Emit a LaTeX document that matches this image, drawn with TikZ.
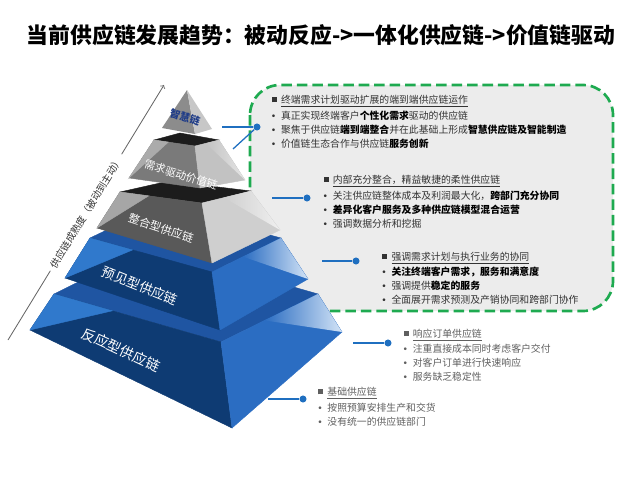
\documentclass[tikz,border=0pt]{standalone}
\usepackage{fontspec}
\setmainfont{Noto Sans CJK SC}
\newfontfamily\bulfont{Liberation Sans}
\usepackage{tikz}
\usetikzlibrary{calc}

\definecolor{framegreen}{HTML}{1EAA50}
\definecolor{framegray}{HTML}{ECECEC}
\definecolor{linkblue}{HTML}{1F6FC0}
\definecolor{smartblue}{HTML}{1F3C88}
\definecolor{txtdark}{HTML}{333333}
\definecolor{txtgray}{HTML}{5F5F5F}
\definecolor{bluetop}{HTML}{1F55A2}
\definecolor{bluedark}{HTML}{0E3B73}
\definecolor{bluehi}{HTML}{3079CC}
\definecolor{bluemid}{HTML}{2B6DC2}
\definecolor{bluepale}{HTML}{D2E3F6}
\definecolor{graytop}{HTML}{1C1C1C}

% one slice of the pyramid: top face, left face (with light wedge), right face
\newcommand{\slab}[6]{%
  \path[fill=#2, draw=#2, line width=0.3pt] (#1lt) -- (#1bt) -- (#1rt) -- (#1ft) -- cycle;
  \path[fill=#3, draw=#3, line width=0.3pt] (#1lb) -- (#1lt) -- (#1ft) -- (#1fb) -- cycle;
  \path[fill=#4, draw=#4, line width=0.3pt] (#1lb) -- (#1lt) -- ($(#1lt)!0.35!(#1ft)$) -- cycle;
  \path[fill=#5, draw=#5, line width=0.3pt] (#1ft) -- (#1rt) -- (#1rb) -- (#1fb) -- cycle;
  \shade[left color=#5, right color=#6] ($(#1ft)!0.45!(#1rt)$) -- (#1rt) -- (#1rb) -- cycle;
}
\newcommand{\hd}[1]{\makebox[6.5pt][l]{\rule[0.9pt]{3.6pt}{3.6pt}}\underline{#1}}
\newcommand{\itm}{\makebox[6.5pt][l]{\bulfont •}}
\newcommand{\bk}[1]{\textcolor{black}{\textbf{#1}}}

\tikzset{
  frame/.style={draw=framegreen, fill=framegray, line width=1.9pt,
    dash pattern=on 7.5pt off 3.5pt, rounded corners=0.75cm},
  matarrow/.style={->, draw=black!60, line width=0.6pt},
  mattext/.style={fill=white, inner xsep=3pt, inner ysep=1pt, text=txtdark,
    font=\fontsize{7}{8}\selectfont},
  blocktext/.style={anchor=west, align=left, inner sep=0pt, text=txtdark,
    font=\fontsize{7}{10}\selectfont},
  layerlab/.style={text=white, inner sep=0pt},
  linkdot/.style={circle, fill=linkblue, inner sep=0pt, minimum size=5pt},
  link/.style={draw=linkblue, line width=0.9pt},
}

\begin{document}
\begin{tikzpicture}[x=0.025cm, y=-0.025cm]
  \useasboundingbox (0,0) rectangle (640,480);

  \node[font=\fontsize{15.5}{18}\selectfont\bfseries] (title) at (321,35)
    {当前供应链发展趋势：被动反应->一体化供应链->价值链驱动};

  % dashed frame behind the upper levels
  \draw[frame] (250,85) rectangle (613,311);

  % maturity arrow
  \coordinate (mat0) at (8,340);
  \coordinate (mat1) at (164,85);
  \draw[matarrow] (mat0) -- (mat1)
    node[midway, sloped, mattext] (matlab) {供应链成熟度（被动到主动）};

  % level 5
  \coordinate (p5lt) at (54,294);  \coordinate (p5bt) at (151,246);
  \coordinate (p5rt) at (318,294); \coordinate (p5ft) at (221,342);
  \coordinate (p5lb) at (30,330);  \coordinate (p5fb) at (232,428);
  \coordinate (p5rb) at (342,332);
  \slab{p5}{bluetop}{bluedark}{bluehi}{bluemid}{bluepale}

  % level 4
  \coordinate (p4lt) at (90,238);  \coordinate (p4bt) at (159,205);
  \coordinate (p4rt) at (281,238); \coordinate (p4ft) at (212,272);
  \coordinate (p4lb) at (65,278);  \coordinate (p4fb) at (220,330);
  \coordinate (p4rb) at (308,279);
  \slab{p4}{bluetop}{bluedark}{bluehi}{bluemid}{bluepale}

  % level 3
  \coordinate (p3lt) at (120,192); \coordinate (p3bt) at (169,181);
  \coordinate (p3rt) at (251,191); \coordinate (p3ft) at (202,203);
  \coordinate (p3lb) at (97,228);  \coordinate (p3fb) at (212,263);
  \coordinate (p3rb) at (280,230);
  \slab{p3}{graytop}{black!65}{black!35}{black!19}{black!6}

  % level 2
  \coordinate (p2lt) at (154,140); \coordinate (p2bt) at (180,133);
  \coordinate (p2rt) at (219,140); \coordinate (p2ft) at (195,146);
  \coordinate (p2lb) at (129,178); \coordinate (p2fb) at (200,188);
  \coordinate (p2rb) at (245,180);
  \slab{p2}{graytop}{black!52}{black!33}{black!24}{black!10}

  % top
  \coordinate (p1a) at (187,90);
  \coordinate (p1l) at (162,128);
  \coordinate (p1f) at (195,134);
  \coordinate (p1r) at (212,129);
  \fill[black!45] (p1a) -- (p1l) -- (p1f) -- cycle;
  \fill[black!22] (p1a) -- (p1f) -- (p1r) -- cycle;

  % level names
  \node[text=smartblue, font=\fontsize{7.3}{8}\selectfont\bfseries, rotate=-17,
    inner sep=0pt] (lab1) at (185,117) {智慧链};
  \node[layerlab, font=\fontsize{7.7}{9}\selectfont, rotate=-17] (lab2) at (181,175) {需求驱动价值链};
  \node[layerlab, font=\fontsize{8}{9}\selectfont, rotate=-18] (lab3) at (161,228) {整合型供应链};
  \node[layerlab, font=\fontsize{9.5}{10}\selectfont, rotate=-22] (lab4) at (140,286) {预见型供应链};
  \node[layerlab, font=\fontsize{10}{11}\selectfont, rotate=-25] (lab5) at (121,350) {反应型供应链};

  % text blocks
  \node[blocktext] (txt1) at (271.6,121.7) {\hd{终端需求计划驱动扩展的端到端供应链运作}\\[1pt]
    \itm 真正实现终端客户\bk{个性化需求}驱动的供应链\\
    \itm 聚焦于供应链\bk{端到端整合}并在此基础上形成\bk{智慧供应链及智能制造}\\
    \itm 价值链生态合作与供应链\bk{服务创新}};
  \node[blocktext] (txt2) at (323.4,201.7) {\hd{内部充分整合，精益敏捷的柔性供应链}\\[1.5pt]
    \itm 关注供应链整体成本及利润最大化，\bk{跨部门充分协同}\\
    \itm \bk{差异化客户服务及多种供应链模型混合运营}\\
    \itm 强调数据分析和挖掘};
  \node[blocktext] (txt3) at (382.1,278.4) {\hd{强调需求计划与执行业务的协同}\\[1pt]
    \itm \bk{关注终端客户需求，服务和满意度}\\
    \itm 强调提供\bk{稳定的服务}\\
    \itm 全面展开需求预测及产销协同和跨部门协作};
  \node[blocktext, text=txtgray] (txt4) at (403.4,355.3) {\hd{响应订单供应链}\\[1pt]
    \itm 注重直接成本同时考虑客户交付\\
    \itm 对客户订单进行快速响应\\
    \itm 服务缺乏稳定性};
  \node[blocktext, text=txtgray] (txt5) at (318,406.7) {\hd{基础供应链}\\[1pt]
    \itm 按照预算安排生产和交货\\
    \itm 没有统一的供应链部门};

  % connectors
  \coordinate (src1a) at (222,127);
  \coordinate (src1b) at (233,149);
  \coordinate (src2) at (272,198);
  \coordinate (src3) at (322,261);
  \coordinate (src4) at (353,343);
  \coordinate (src5) at (268,399);
  \node[linkdot] (dot1) at (257,127) {};
  \node[linkdot] (dot2) at (307,198) {};
  \node[linkdot] (dot3) at (356,261) {};
  \node[linkdot] (dot4) at (388,343) {};
  \node[linkdot] (dot5) at (303,399) {};
  \draw[link] (src1a) -- (dot1);
  \draw[link] (src1b) -- (dot1);
  \draw[link] (src2) -- (dot2);
  \draw[link] (src3) -- (dot3);
  \draw[link] (src4) -- (dot4);
  \draw[link] (src5) -- (dot5);
\end{tikzpicture}
\end{document}
